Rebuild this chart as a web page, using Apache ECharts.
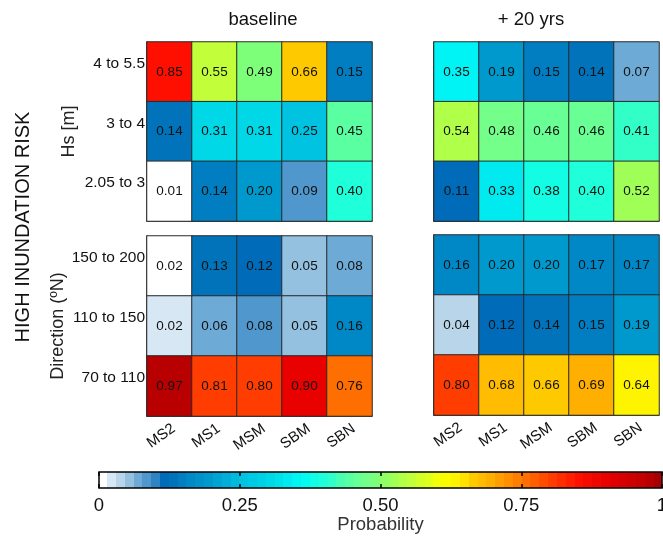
<!DOCTYPE html>
<html><head><meta charset="utf-8">
<script src="https://cdn.jsdelivr.net/npm/echarts@6/dist/echarts.min.js"></script>
<style>html,body{margin:0;padding:0;background:#fff}#c{width:663px;height:548px}</style>
</head><body><div id="c"></div>
<script>
// ---------- data ----------
const models = ['MS2', 'MS1', 'MSM', 'SBM', 'SBN'];
const hsBins = ['4 to 5.5', '3 to 4', '2.05 to 3'];          // top to bottom
const dirBins = ['150 to 200', '110 to 150', '70 to 110'];   // top to bottom
const hsBaseline = [
  [0.85, 0.55, 0.49, 0.66, 0.15],
  [0.138, 0.31, 0.31, 0.25, 0.45],
  [0.01, 0.143, 0.20, 0.09, 0.40]
];
const hsFuture = [
  [0.35, 0.19, 0.15, 0.14, 0.07],
  [0.54, 0.48, 0.46, 0.46, 0.41],
  [0.11, 0.33, 0.38, 0.40, 0.52]
];
const dirBaseline = [
  [0.0155, 0.13, 0.12, 0.05, 0.077],
  [0.022, 0.063, 0.08, 0.05, 0.16],
  [0.97, 0.81, 0.80, 0.90, 0.76]
];
const dirFuture = [
  [0.16, 0.20, 0.20, 0.17, 0.17],
  [0.04, 0.12, 0.14, 0.15, 0.19],
  [0.80, 0.68, 0.66, 0.69, 0.64]
];
const cbTicks = [0, 0.25, 0.5, 0.75, 1];
const cbTickLabels = ['0', '0.25', '0.50', '0.75', '1'];
const panelTitles = ['baseline', '+ 20 yrs'];

// ---------- colour map (style) ----------
const cmapStops = [
  [0.000, '#ffffff'], [0.008, '#ffffff'], [0.023, '#d9e8f4'], [0.039, '#b9d5ea'],
  [0.055, '#93c1e0'], [0.070, '#6eaad5'], [0.086, '#4f97cc'], [0.102, '#2e84c3'],
  [0.117, '#006bb8'], [0.133, '#0073ba'], [0.148, '#007ec1'], [0.164, '#0088c6'],
  [0.195, '#0099cd'], [0.250, '#00bee0'], [0.310, '#00d9e8'], [0.330, '#00e6ee'],
  [0.360, '#00f8f8'], [0.380, '#10fde6'], [0.400, '#20ffd8'], [0.450, '#60ff9c'],
  [0.470, '#6eff90'], [0.490, '#7cff7c'], [0.530, '#a6ff50'], [0.555, '#c2ff3a'],
  [0.610, '#fbff00'], [0.640, '#fff000'], [0.660, '#ffcc00'], [0.690, '#ffb400'],
  [0.760, '#ff6c00'], [0.800, '#ff4200'], [0.850, '#ff1000'], [0.900, '#e80000'],
  [0.970, '#c00000'], [1.000, '#a00000']
];
const NSTEP = 64;
function hex2rgb(h) { return [1, 3, 5].map(i => parseInt(h.substr(i, 2), 16)); }
function cmap(v) {
  for (let i = 1; i < cmapStops.length; i++) {
    if (v <= cmapStops[i][0]) {
      const [v0, c0] = cmapStops[i - 1], [v1, c1] = cmapStops[i];
      const t = (v - v0) / (v1 - v0), a = hex2rgb(c0), b = hex2rgb(c1);
      return 'rgb(' + a.map((x, k) => Math.round(x + (b[k] - x) * t)).join(',') + ')';
    }
  }
  return cmapStops[cmapStops.length - 1][1];
}
const stepColors = [];
for (let i = 0; i < NSTEP; i++) stepColors.push(cmap((i + 0.5) / NSTEP));
const pieces = stepColors.map((c, i) => i === NSTEP - 1
  ? { gte: i / NSTEP, lte: 1, color: c }
  : { gte: i / NSTEP, lt: (i + 1) / NSTEP, color: c });
const barStops = [];
stepColors.forEach((c, i) => { barStops.push({ offset: i / NSTEP, color: c }, { offset: (i + 1) / NSTEP, color: c }); });

// ---------- chart ----------
const FONT = 'Liberation Sans, Arial, sans-serif';
const toCells = m => { const out = []; m.forEach((row, r) => row.forEach((v, c) => out.push([c, r, v]))); return out; };

const grids = [
  { left: 147, top: 42, width: 225, height: 179, outerBoundsMode: 'none' },
  { left: 434, top: 42, width: 225, height: 179, outerBoundsMode: 'none' },
  { left: 147, top: 236, width: 225, height: 180, outerBoundsMode: 'none' },
  { left: 434, top: 235, width: 225, height: 180, outerBoundsMode: 'none' },
  { left: 99, top: 472, width: 563, height: 16, outerBoundsMode: 'none', show: true, borderColor: '#000', borderWidth: 1.5,
    backgroundColor: { type: 'linear', x: 0, y: 0, x2: 1, y2: 0, colorStops: barStops } }
];
const axLine = { show: true, lineStyle: { color: '#1a1a1a', width: 1.5 } };
const xAxes = [0, 1, 2, 3].map(g => ({
  type: 'category', gridIndex: g, data: models,
  axisLine: axLine, axisTick: { show: false }, splitLine: { show: false },
  axisLabel: { show: g >= 2, rotate: 35, margin: 5, verticalAlign: 'top', fontSize: 15, color: '#111', fontFamily: FONT }
}));
xAxes.push({
  type: 'value', gridIndex: 4, min: 0, max: 1, interval: 0.25,
  axisLine: { show: false }, splitLine: { show: false },
  axisTick: { show: true, inside: true, length: 4, lineStyle: { color: '#000', width: 1.5 } },
  axisLabel: { margin: 8, fontSize: 18.5, color: '#111', fontFamily: FONT,
    formatter: v => cbTickLabels[cbTicks.indexOf(v)] },
  name: 'Probability', nameLocation: 'middle', nameGap: 27,
  nameTextStyle: { fontSize: 18.5, color: '#333', fontFamily: FONT }
});
xAxes.push({
  type: 'value', gridIndex: 4, position: 'top', min: 0, max: 1, interval: 0.25,
  axisLine: { show: false }, splitLine: { show: false }, axisLabel: { show: false },
  axisTick: { show: true, inside: true, length: 4, lineStyle: { color: '#000', width: 1.5 } }
});
const yNames = ['Hs [m]', '', 'Direction (\u00baN)', ''];
const yGaps = [69, 0, 80, 0];
const yAxes = [0, 1, 2, 3].map(g => ({
  type: 'category', gridIndex: g, inverse: true, data: g < 2 ? hsBins : dirBins,
  axisLine: axLine, axisTick: { show: false }, splitLine: { show: false },
  axisLabel: { show: g % 2 === 0, margin: 2, fontSize: 15.5, color: '#111', fontFamily: FONT, verticalAlign: 'bottom' },
  name: yNames[g], nameLocation: 'middle', nameRotate: 90, nameGap: yGaps[g],
  nameTextStyle: { fontSize: 18, color: '#222', fontFamily: FONT }
}));
yAxes.push({ type: 'value', gridIndex: 4, show: false, min: 0, max: 1 });

const mats = [hsBaseline, hsFuture, dirBaseline, dirFuture];
const series = mats.map((m, g) => ({
  type: 'heatmap', xAxisIndex: g, yAxisIndex: g, data: toCells(m),
  itemStyle: { borderColor: '#2a2a2a', borderWidth: 1 },
  label: { show: true, fontSize: 13.5, color: '#111', fontFamily: FONT, formatter: p => p.value[2].toFixed(2) },
  emphasis: { disabled: true }
}));

const chart = echarts.init(document.getElementById('c'), null, { renderer: 'canvas' });
chart.setOption({
  animation: false,
  backgroundColor: '#fff',
  grid: grids, xAxis: xAxes, yAxis: yAxes, series: series,
  visualMap: { type: 'piecewise', show: false, dimension: 2, seriesIndex: [0, 1, 2, 3], pieces: pieces },
  graphic: [
    { type: 'text', x: 263, y: 20, style: { text: panelTitles[0], align: 'center', verticalAlign: 'middle', font: '18.5px ' + FONT, fill: '#111' } },
    { type: 'text', x: 531, y: 20, style: { text: panelTitles[1], align: 'center', verticalAlign: 'middle', font: '18.5px ' + FONT, fill: '#111' } },
    { type: 'text', x: 23, y: 227, rotation: Math.PI / 2, style: { text: 'HIGH INUNDATION RISK', align: 'center', verticalAlign: 'middle', font: '20px ' + FONT, fill: '#111' } }
  ]
});
</script></body></html>
